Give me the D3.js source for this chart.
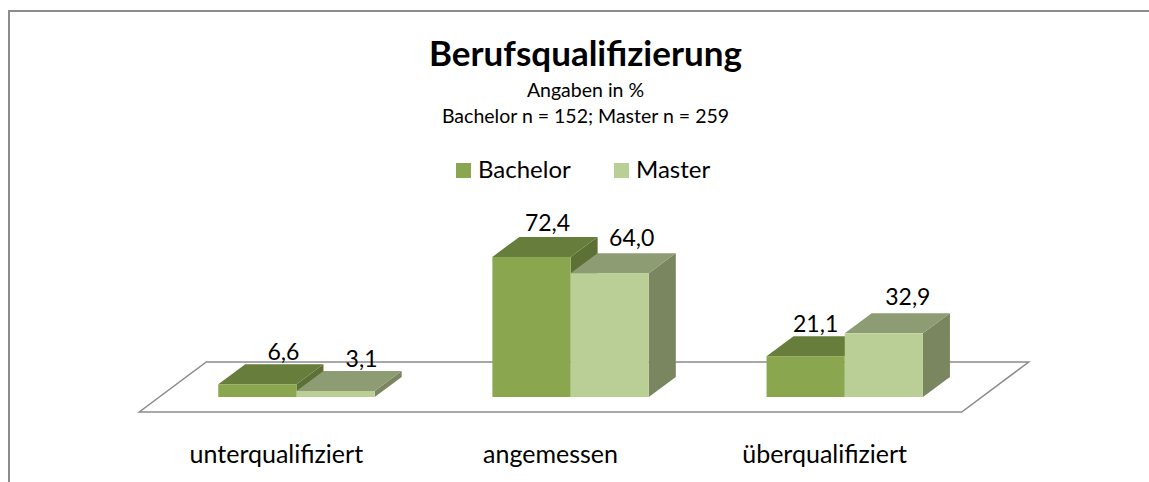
<!DOCTYPE html>
<html>
<head>
<meta charset="utf-8">
<script src="https://cdn.jsdelivr.net/npm/d3@7"></script>
<style>
  html, body { margin: 0; padding: 0; background: #fff; }
  svg { display: block; font-family: Lato, "Open Sans", sans-serif; }
</style>
</head>
<body>
<div id="chart"></div>
<script>
const categories = ["unterqualifiziert", "angemessen", "überqualifiziert"];
const seriesNames = ["Bachelor", "Master"];
const bachelor = [6.6, 72.4, 21.1];
const master = [3.1, 64.0, 32.9];

const width = 1149, height = 482;

// colours per series: front, top, side
const colors = {
  Bachelor: { front: "#8aa64f", top: "#677d3b", side: "#5d7035" },
  Master: { front: "#b9cf96", top: "#8d9c72", side: "#7a8660" }
};

const svg = d3.select("#chart").append("svg")
  .attr("width", width)
  .attr("height", height);

// chart frame, only top and left show in the crop
svg.append("path")
  .attr("d", "M9,482V11H1149")
  .attr("fill", "none")
  .attr("stroke", "#8c8c8c")
  .attr("stroke-width", 2);

// --- scales ---
const floorFront = 412, floorLeft = 139.3, floorRight = 961.7;
const floorDx = 67, floorDy = -50;   // how far the floor runs back
const barDepthDx = 27, barDepthDy = -20;
const inset = 0.3;                   // where the bars stand on the floor, front to back

const x = d3.scaleBand()
  .domain(categories)
  .range([floorLeft, floorRight]);

const xBar = d3.scaleBand()
  .domain(seriesNames)
  .range([0, 156.4]);

const y = d3.scaleLinear()
  .domain([0, 100])
  .range([floorFront + floorDy * inset, floorFront + floorDy * inset - 193.5]);

// --- floor ---
svg.append("path")
  .attr("d", d3.line()([
    [floorLeft, floorFront],
    [floorRight, floorFront],
    [floorRight + floorDx, floorFront + floorDy],
    [floorLeft + floorDx, floorFront + floorDy]
  ]) + "Z")
  .attr("fill", "#fff")
  .attr("stroke", "#8c8c8c")
  .attr("stroke-width", 1.5);

// --- bars ---
const rows = categories.flatMap((c, i) => [
  { cat: c, series: "Bachelor", value: bachelor[i] },
  { cat: c, series: "Master", value: master[i] }
]);

const barX = d => x(d.cat) + x.bandwidth() / 2 + floorDx * inset - xBar.bandwidth() + xBar(d.series);

const bars = svg.selectAll(".bar")
  .data(rows)
  .join("g")
  .attr("class", "bar");

bars.each(function(d) {
  const g = d3.select(this);
  const x0 = barX(d), x1 = x0 + xBar.bandwidth();
  const y0 = y(0), y1 = y(d.value);
  const c = colors[d.series];
  const line = d3.line();

  g.append("path")
    .attr("d", line([[x1, y1], [x1 + barDepthDx, y1 + barDepthDy], [x1 + barDepthDx, y0 + barDepthDy], [x1, y0]]) + "Z")
    .attr("fill", c.side);
  g.append("path")
    .attr("d", line([[x0, y1], [x0 + barDepthDx, y1 + barDepthDy], [x1 + barDepthDx, y1 + barDepthDy], [x1, y1]]) + "Z")
    .attr("fill", c.top);
  g.append("rect")
    .attr("x", x0)
    .attr("y", y1)
    .attr("width", x1 - x0)
    .attr("height", y0 - y1)
    .attr("fill", c.front);
});

// --- value labels ---
// the labels were placed by hand in the original, so each gets a small nudge
const labelNudgeX = [2, 2, -8, -2, -14, 0];
const labelNudgeY = [24, 24.5, 26, 27, 24, 28];

svg.selectAll(".value")
  .data(rows)
  .join("text")
  .attr("class", "value")
  .attr("x", (d, i) => barX(d) + xBar.bandwidth() / 2 + 24 + labelNudgeX[i])
  .attr("y", (d, i) => y(d.value) - labelNudgeY[i])
  .attr("text-anchor", "middle")
  .attr("font-size", 23)
  .attr("fill", "#000")
  .text(d => d.value.toFixed(1).replace(".", ","));

// --- category labels ---
svg.selectAll(".cat")
  .data(categories)
  .join("text")
  .attr("class", "cat")
  .attr("x", d => x(d) + x.bandwidth() / 2)
  .attr("y", 463)
  .attr("text-anchor", "middle")
  .attr("font-size", 25)
  .attr("fill", "#000")
  .text(d => d);

// --- title ---
svg.append("text")
  .attr("x", 585.5).attr("y", 66)
  .attr("text-anchor", "middle")
  .attr("font-size", 35)
  .attr("font-weight", 700)
  .text("Berufsqualifizierung");
svg.append("text")
  .attr("x", 585.5).attr("y", 97)
  .attr("text-anchor", "middle")
  .attr("font-size", 19.5)
  .text("Angaben in %");
svg.append("text")
  .attr("x", 585.5).attr("y", 123)
  .attr("text-anchor", "middle")
  .attr("font-size", 19.5)
  .text("Bachelor n = 152; Master n = 259");

// --- legend ---
const legendX = d3.scaleOrdinal().domain(seriesNames).range([456, 614]);

const legend = svg.selectAll(".legend")
  .data(seriesNames)
  .join("g")
  .attr("class", "legend")
  .attr("transform", d => `translate(${legendX(d)},163)`);

legend.append("rect")
  .attr("width", 15)
  .attr("height", 15)
  .attr("fill", d => colors[d].front);

legend.append("text")
  .attr("x", 22)
  .attr("y", 15)
  .attr("font-size", 24)
  .text(d => d);
</script>
</body>
</html>
